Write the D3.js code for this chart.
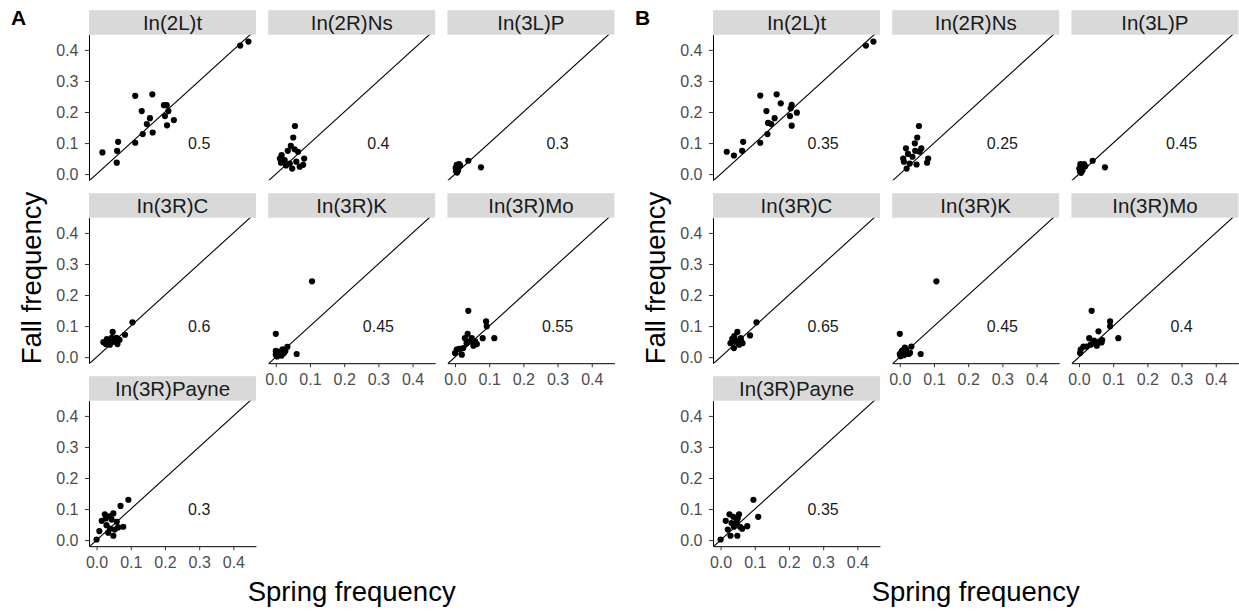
<!DOCTYPE html>
<meta charset="utf-8">
<head>
  <style>
    body { margin: 0; background: #fff; }
    svg text { font-family: "Liberation Sans", Arial, sans-serif; }
    svg .tick text { font-size: 16px; fill: #4d4d4d; }
    svg .tick line { stroke: #333; }
    svg .domain { stroke: #000; stroke-width: 1px; }
    svg .strip rect { fill: #d9d9d9; }
    svg .strip text { font-size: 20.5px; fill: #1a1a1a; }
    svg .abline { stroke: #000; stroke-width: 1.1px; }
    svg .note { font-size: 16px; fill: #1a1a1a; }
  </style>
</head>
<body>
<script src="https://d3js.org/d3.v7.min.js"></script>
<script>
// facet names, in reading order
var inversions = ["In(2L)t", "In(2R)Ns", "In(3L)P", "In(3R)C", "In(3R)K", "In(3R)Mo", "In(3R)Payne"];

// numbers written in each panel
var notesA = ["0.5", "0.4", "0.3", "0.6", "0.45", "0.55", "0.3"];
var notesB = ["0.35", "0.25", "0.45", "0.65", "0.45", "0.4", "0.35"];

var ticks = [0, 0.1, 0.2, 0.3, 0.4];

// [spring, fall] pairs, panel A
var A_2Lt = [[0.017,0.070],[0.059,0.037],[0.060,0.075],[0.063,0.104],[0.113,0.252],[0.113,0.101],[0.132,0.203],
  [0.135,0.129],[0.147,0.161],[0.156,0.180],[0.163,0.257],[0.164,0.134],[0.197,0.222],[0.205,0.222],[0.200,0.187],
  [0.210,0.203],[0.206,0.157],[0.226,0.174],[0.420,0.414],[0.444,0.427]];
var A_2RNs = [[0.056,0.155],[0.051,0.118],[0.044,0.091],[0.055,0.080],[0.065,0.072],[0.035,0.075],[0.017,0.061],
  [0.015,0.037],[0.026,0.045],[0.041,0.034],[0.048,0.018],[0.070,0.024],[0.083,0.050],[0.080,0.030],[0.030,0.028],
  [0.012,0.050],[0.060,0.040]];
var A_3LP = [[0.039,0.043],[0.076,0.022],[0.005,0.030],[0.010,0.025],[0.008,0.018],[0.003,0.010],[0.012,0.032],
  [0.006,0.005],[0.015,0.028],[0.002,0.020],[0.009,0.012]];
var A_3RC = [[0.105,0.112],[0.083,0.072],[0.047,0.081],[0.027,0.042],[0.030,0.058],[0.044,0.062],[0.054,0.050],
  [0.061,0.042],[0.067,0.056],[0.039,0.040],[0.020,0.048],[0.049,0.050],[0.058,0.062],[0.035,0.052]];
var A_3RK = [[0.106,0.244],[0.000,0.075],[0.061,0.010],[0.034,0.033],[0.000,0.008],[0.000,0.020],[0.007,0.013],
  [0.017,0.005],[0.024,0.013],[0.012,0.018],[0.028,0.020],[0.004,0.002],[0.020,0.025],[0.010,0.008]];
var A_3RMo = [[0.039,0.149],[0.091,0.115],[0.093,0.099],[0.115,0.061],[0.081,0.061],[0.037,0.075],[0.029,0.061],
  [0.005,0.024],[0.000,0.013],[0.020,0.008],[0.044,0.051],[0.054,0.037],[0.059,0.051],[0.012,0.027],[0.024,0.029],
  [0.064,0.042],[0.049,0.061],[0.034,0.045]];
var A_3RPayne = [[0.093,0.130],[0.070,0.110],[0.078,0.043],[0.063,0.041],[0.049,0.086],[0.024,0.083],[0.015,0.062],
  [0.008,0.029],[0.000,0.002],[0.029,0.048],[0.044,0.066],[0.059,0.059],[0.049,0.014],[0.034,0.024],[0.053,0.034],
  [0.039,0.037],[0.027,0.070],[0.040,0.077]];

// [spring, fall] pairs, panel B
var B_2Lt = [[0.018,0.072],[0.039,0.060],[0.063,0.075],[0.066,0.104],[0.116,0.253],[0.116,0.101],[0.134,0.203],
  [0.137,0.129],[0.139,0.165],[0.148,0.161],[0.158,0.180],[0.164,0.257],[0.176,0.228],[0.203,0.187],[0.205,0.212],
  [0.208,0.223],[0.208,0.156],[0.223,0.198],[0.425,0.414],[0.447,0.427]];
var B_2RNs = [[0.056,0.155],[0.051,0.118],[0.044,0.099],[0.018,0.083],[0.010,0.050],[0.024,0.065],[0.020,0.018],
  [0.049,0.031],[0.058,0.072],[0.083,0.050],[0.080,0.037],[0.037,0.056],[0.029,0.034],[0.063,0.083],[0.045,0.075],
  [0.012,0.040]];
var B_3LP = [[0.040,0.043],[0.076,0.022],[0.004,0.032],[0.012,0.028],[0.008,0.020],[0.003,0.008],[0.015,0.032],
  [0.006,0.004],[0.018,0.025],[0.001,0.018],[0.010,0.012]];
var B_3RC = [[0.105,0.112],[0.086,0.070],[0.049,0.081],[0.034,0.059],[0.044,0.050],[0.059,0.061],[0.064,0.045],
  [0.039,0.029],[0.054,0.040],[0.049,0.052],[0.029,0.045],[0.040,0.068],[0.060,0.052]];
var B_3RK = [[0.107,0.244],[0.000,0.075],[0.061,0.010],[0.034,0.034],[0.015,0.031],[0.000,0.010],[0.005,0.018],
  [0.012,0.006],[0.020,0.015],[0.026,0.010],[0.008,0.022],[0.002,0.003],[0.018,0.024],[0.030,0.014]];
var B_3RMo = [[0.037,0.149],[0.091,0.115],[0.091,0.099],[0.115,0.061],[0.057,0.083],[0.066,0.047],[0.030,0.061],
  [0.005,0.024],[0.003,0.013],[0.022,0.034],[0.042,0.045],[0.052,0.037],[0.061,0.050],[0.044,0.053],[0.013,0.034],
  [0.034,0.040],[0.068,0.055]];
var B_3RPayne = [[0.096,0.130],[0.110,0.075],[0.078,0.045],[0.054,0.083],[0.026,0.083],[0.015,0.062],[0.000,0.002],
  [0.021,0.034],[0.029,0.014],[0.049,0.014],[0.039,0.043],[0.047,0.059],[0.057,0.043],[0.063,0.037],[0.037,0.075],
  [0.032,0.055],[0.050,0.070]];

var figures = [
  { tag: "A", dx: 0,   notes: notesA, sets: [A_2Lt, A_2RNs, A_3LP, A_3RC, A_3RK, A_3RMo, A_3RPayne] },
  { tag: "B", dx: 624, notes: notesB, sets: [B_2Lt, B_2RNs, B_3LP, B_3RC, B_3RK, B_3RMo, B_3RPayne] }
];

var width = 1239, height = 613;
var left0 = 89, colStep = 179.2, top0 = 34.7, rowStep = 183,
    panelW = 167, panelH = 145.5, stripH = 24.5, nCols = 3;

// shared scales (fixed facet scales)
var xScale = d3.scaleLinear().domain([-0.0222, 0.4662]).range([0, panelW]);
var yScale = d3.scaleLinear().domain([-0.0196, 0.449]).range([panelH, 0]);

var svg = d3.select("body").append("svg")
    .attr("width", width)
    .attr("height", height);

svg.append("defs").append("clipPath")
    .attr("id", "panel-clip")
  .append("rect")
    .attr("width", panelW)
    .attr("height", panelH);

figures.forEach(function (fig) {
  var g = svg.append("g").attr("transform", "translate(" + fig.dx + ",0)");

  g.append("text")
      .attr("x", 11)
      .attr("y", 25)
      .text(fig.tag)
      .style("font-size", "21px")
      .style("font-weight", "bold");

  inversions.forEach(function (name, i) {
    var col = i % nCols, row = Math.floor(i / nCols);
    var px = left0 + col * colStep, py = top0 + row * rowStep;
    var p = g.append("g").attr("transform", "translate(" + px + "," + py + ")");

    // strip
    var strip = p.append("g").classed("strip", true)
        .attr("transform", "translate(0," + (-stripH) + ")");
    strip.append("rect").attr("width", panelW).attr("height", stripH);
    strip.append("text")
        .attr("x", panelW / 2)
        .attr("y", stripH / 2)
        .attr("dy", "0.36em")
        .style("text-anchor", "middle")
        .text(name);

    // y = x reference line
    var lo = xScale.domain()[0], hi = xScale.domain()[1];
    p.append("line")
        .classed("abline", true)
        .attr("clip-path", "url(#panel-clip)")
        .attr("x1", xScale(lo)).attr("y1", yScale(lo))
        .attr("x2", xScale(hi)).attr("y2", yScale(hi));

    p.selectAll("circle")
        .data(fig.sets[i])
      .enter().append("circle")
        .attr("cx", function (d) { return xScale(d[0]); })
        .attr("cy", function (d) { return yScale(d[1]); })
        .attr("r", 3.1)
        .style("fill", "#000");

    p.append("text")
        .classed("note", true)
        .attr("x", xScale(0.3))
        .attr("y", yScale(0.1))
        .attr("dy", "0.36em")
        .style("text-anchor", "middle")
        .text(fig.notes[i]);

    // y axis on the first column
    if (col === 0) {
      p.append("g")
          .call(d3.axisLeft(yScale)
            .tickValues(ticks)
            .tickFormat(d3.format(".1f"))
            .tickSize(4)
            .tickSizeOuter(0)
            .tickPadding(6.5));
    }

    // x axis on the lowest panel of each column
    var lowest = i + nCols >= inversions.length;
    if (lowest) {
      p.append("g")
          .attr("transform", "translate(0," + panelH + ")")
          .call(d3.axisBottom(xScale)
            .tickValues(ticks)
            .tickFormat(d3.format(".1f"))
            .tickSize(4)
            .tickSizeOuter(0)
            .tickPadding(6));
    }
  });

  var areaMid = left0 + (colStep * (nCols - 1) + panelW) / 2;

  g.append("text")
      .attr("x", areaMid)
      .attr("y", 601)
      .style("text-anchor", "middle")
      .style("font-size", "27.5px")
      .style("fill", "#000")
      .text("Spring frequency");

  g.append("text")
      .attr("transform", "translate(41,278) rotate(-90)")
      .style("text-anchor", "middle")
      .style("font-size", "27.5px")
      .style("fill", "#000")
      .text("Fall frequency");
});
</script>
</body>
</html>
